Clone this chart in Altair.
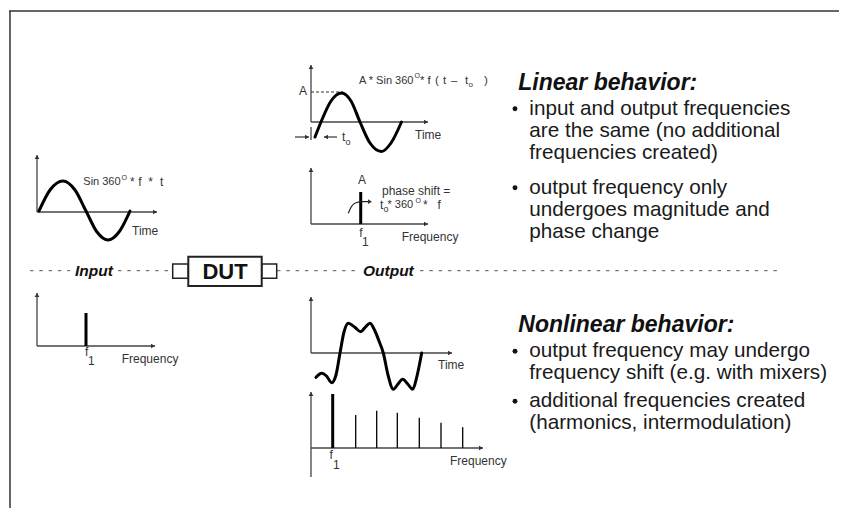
import altair as alt
import pandas as pd

# ---------------- canvas (page-pixel coordinates) ----------------
W, H = 831, 500
X0, Y0 = 8, 8
XS = alt.Scale(domain=[X0, X0 + W], nice=False, zero=False)
YS = alt.Scale(domain=[Y0, Y0 + H], nice=False, zero=False, reverse=True)
FONT = "Liberation Sans"

# ---------------- data ----------------
# frame (x1, y1, x2, y2)
frame_x1 = [10, 9]
frame_y1 = [11, 11]
frame_x2 = [10, 847]
frame_y2 = [517, 11]
frame_col = ["#666666", "#333333"]
frame_w = [2.0, 1.5]

# small plot axes (start -> arrow end)
axis_x1 = [37, 37, 37, 37, 311, 311, 311, 311, 311, 311, 311, 311]
axis_y1 = [212, 212, 346, 346, 122, 122, 224, 224, 353, 353, 477, 448]
axis_x2 = [37, 157, 37, 155, 311, 428, 311, 428, 311, 452, 311, 483]
axis_y2 = [155, 212, 293, 346, 65, 122, 168, 224, 297, 353, 392, 448]

# spectral lines
spec_x = [86, 360.7, 332.7, 355.7, 376.7, 397.3, 419.3, 441, 462.7]
spec_base = [346, 224, 448, 448, 448, 448, 448, 448, 448]
spec_top = [313, 192, 394, 415, 410.7, 412.7, 417.7, 422.7, 427.3]
spec_w = [3, 3, 3, 1.3, 1.3, 1.3, 1.3, 1.3, 1.3]

# input sine (Sin 360 * f * t)
in_x = [39, 50, 63, 75, 86, 97, 108, 119, 130]
in_y = [211, 190, 181, 190, 211, 232, 240, 232, 211]
# linear output sine (A * Sin 360 * f (t - to))
lin_x = [315, 321, 331, 341.5, 351, 360, 370, 381.5, 391, 401.5]
lin_y = [137, 122, 101, 93, 101, 122, 143, 151.5, 143, 122]
# nonlinear output waveform
nl_x = [316, 321.7, 326.5, 331.7, 336, 340, 344, 348.3, 354.5, 360.7, 365.5,
        370, 374.5, 379, 383.3, 388, 393.3, 398, 402.7, 407.7, 412.7, 417, 421.7]
nl_y = [377.3, 373.3, 376, 382.7, 375, 353, 332, 323.3, 327, 331.7, 327,
        323.3, 330, 341, 353, 375, 389.3, 384, 379.3, 384, 389.3, 376, 353]
# phase-shift curved arrow
arc_x = [348.3, 351.5, 356.5, 362, 368]
arc_y = [213.3, 206.5, 202.5, 201.7, 201.7]

# t_o bracket
to_x1 = [295, 337, 311]
to_y1 = [137, 137, 127]
to_x2 = [309, 324, 311]
to_y2 = [137, 137, 140]

# separator dashed segments (y = 270.7)
sep_x1 = [30, 118, 277, 420]
sep_x2 = [70, 170, 358, 782]
sep_y = 270.7

# DUT boxes (x1, y1, x2, y2)
box_x1 = [172.7, 261.7, 188.3]
box_y1 = [264, 264, 256.7]
box_x2 = [188.3, 276.7, 261.7]
box_y2 = [278.3, 278.3, 286]
box_w = [1.5, 1.5, 2.0]

# arrowheads
head_x = [37, 155, 37, 153, 311, 426, 311, 426, 311, 450, 311, 481, 307, 326, 370]
head_y = [157, 212, 295, 346, 67, 122, 170, 224, 299, 353, 394, 448, 137, 137, 201.7]
head_shape = ["triangle-up", "triangle-right", "triangle-up", "triangle-right",
              "triangle-up", "triangle-right", "triangle-up", "triangle-right",
              "triangle-up", "triangle-right", "triangle-up", "triangle-right",
              "triangle-right", "triangle-left", "triangle-right"]

# small labels and formula tokens (left aligned)
lab_text = ["Time", "Time", "Time", "Frequency", "Frequency", "Frequency",
            "phase shift =",
            "Sin 360", "O", "*", "f", "*", "t",
            "A * Sin 360", "O", "*", "f", "(", "t", "\u2013", "t", "o", ")",
            "t", "o",
            "t", "o", "* 360", "O", "*", "f",
            "f", "1", "f", "1", "f", "1"]
lab_x = [132, 415, 438, 121.7, 401.7, 450,
         382,
         83.3, 121.5, 130, 138.3, 148.3, 160,
         359, 414.5, 420, 427.5, 435, 443, 451, 465, 468.5, 484,
         342, 345.5,
         380, 383.5, 387.5, 415.5, 423, 437.5,
         359.3, 362, 85, 88, 329.5, 333]
lab_y = [231, 134.5, 365, 358.5, 236.7, 460.5,
         191,
         182.2, 177.5, 182.2, 182.2, 182.2, 182.2,
         81, 76, 81, 81, 81, 81, 81, 81, 84.5, 81,
         137, 141.5,
         205, 208.5, 205, 200.8, 205, 205,
         232.5, 242, 352, 361, 455, 465]
lab_size = [12, 12, 12, 12, 12, 12,
            12,
            11, 7, 12, 12, 12, 12,
            11, 7, 11.5, 11.5, 11.5, 11.5, 11.5, 11.5, 8, 11.5,
            12, 9,
            12, 9, 11, 7, 12, 12,
            12, 12, 12, 12, 12, 12]

# centred labels
clab_text = ["A", "A"]
clab_x = [303, 362]
clab_y = [91.3, 180.3]

# headings (bold italic)
head_text = ["Linear behavior:", "Nonlinear behavior:", "Input", "Output"]
head_tx = [518.3, 518.3, 75, 363]
head_ty = [83, 324.5, 270.7, 270.7]
head_size = [23, 23, 15.5, 15.5]

# bullet text lines
body_text = ["input and output frequencies", "are the same (no additional",
             "frequencies created)", "output frequency only",
             "undergoes magnitude and", "phase change",
             "output frequency may undergo", "frequency shift (e.g. with mixers)",
             "additional frequencies created", "(harmonics, intermodulation)"]
body_y = [108.8, 130.8, 152.8, 187.8, 209.8, 231.8, 351.2, 373, 401.2, 423]
body_x = 529.3
dot_x = [515, 515, 515, 515]
dot_y = [108.8, 187.8, 351.2, 401.2]

# ---------------- helpers ----------------
def ex(f="x"):
    return alt.X(f"{f}:Q", scale=XS, axis=None)

def ey(f="y"):
    return alt.Y(f"{f}:Q", scale=YS, axis=None)

def rules(df, dash=None):
    kw = {}
    if dash is not None:
        kw["strokeDash"] = dash
    return alt.Chart(df).mark_rule(**kw).encode(
        x=ex("x1"), y=ey("y1"), x2=alt.X2("x2:Q"), y2=alt.Y2("y2:Q"),
        color=alt.Color("c:N", scale=None),
        strokeWidth=alt.StrokeWidth("w:Q", scale=None),
    )

layers = []

# frame
layers.append(rules(pd.DataFrame({"x1": frame_x1, "y1": frame_y1, "x2": frame_x2,
                                  "y2": frame_y2, "c": frame_col, "w": frame_w})))
# axes
n = len(axis_x1)
layers.append(rules(pd.DataFrame({"x1": axis_x1, "y1": axis_y1, "x2": axis_x2,
                                  "y2": axis_y2, "c": ["#444444"] * n, "w": [1.3] * n})))
# t_o bracket
layers.append(rules(pd.DataFrame({"x1": to_x1, "y1": to_y1, "x2": to_x2, "y2": to_y2,
                                  "c": ["#333333"] * 3, "w": [1.2] * 3})))
# spectra
m = len(spec_x)
layers.append(rules(pd.DataFrame({"x1": spec_x, "y1": spec_base, "x2": spec_x,
                                  "y2": spec_top, "c": ["#000000"] * m, "w": spec_w})))
# separator
k = len(sep_x1)
layers.append(rules(pd.DataFrame({"x1": sep_x1, "y1": [sep_y] * k, "x2": sep_x2,
                                  "y2": [sep_y] * k, "c": ["#555555"] * k, "w": [1.0] * k}),
                    dash=[3.5, 5.8]))
# amplitude dashed marker
layers.append(rules(pd.DataFrame({"x1": [311], "y1": [92], "x2": [343], "y2": [92],
                                  "c": ["#333333"], "w": [1.0]}), dash=[3, 2]))

# DUT boxes
layers.append(alt.Chart(pd.DataFrame({"x1": box_x1, "y1": box_y1, "x2": box_x2,
                                      "y2": box_y2, "w": box_w})).mark_rect(
    fill="white", stroke="#222222").encode(
    x=ex("x1"), y=ey("y1"), x2=alt.X2("x2:Q"), y2=alt.Y2("y2:Q"),
    strokeWidth=alt.StrokeWidth("w:Q", scale=None)))

# waveforms
wave = pd.DataFrame({
    "x": in_x + lin_x + nl_x,
    "y": in_y + lin_y + nl_y,
    "id": ["in"] * len(in_x) + ["lin"] * len(lin_x) + ["nl"] * len(nl_x),
})
layers.append(alt.Chart(wave).mark_line(interpolate="monotone", color="black",
                                        strokeWidth=3, strokeCap="round").encode(
    x=ex(), y=ey(), detail="id:N"))

# curved arrow
layers.append(alt.Chart(pd.DataFrame({"x": arc_x, "y": arc_y})).mark_line(
    interpolate="monotone", color="#222222", strokeWidth=1.2).encode(x=ex(), y=ey()))

# arrowheads
layers.append(alt.Chart(pd.DataFrame({"x": head_x, "y": head_y, "s": head_shape})).mark_point(
    filled=True, color="#333333", size=22, opacity=1).encode(
    x=ex(), y=ey(), shape=alt.Shape("s:N", scale=None)))

# bullet dots
layers.append(alt.Chart(pd.DataFrame({"x": dot_x, "y": dot_y})).mark_circle(
    color="#111111", size=24, opacity=1).encode(x=ex(), y=ey()))

# small labels
layers.append(alt.Chart(pd.DataFrame({"x": lab_x, "y": lab_y, "t": lab_text,
                                      "s": lab_size})).mark_text(
    font=FONT, align="left", baseline="middle", color="#333333").encode(
    x=ex(), y=ey(), text="t:N", size=alt.Size("s:Q", scale=None)))
layers.append(alt.Chart(pd.DataFrame({"x": clab_x, "y": clab_y, "t": clab_text})).mark_text(
    font=FONT, align="center", baseline="middle", color="#333333", fontSize=12).encode(
    x=ex(), y=ey(), text="t:N"))

# headings
layers.append(alt.Chart(pd.DataFrame({"x": head_tx, "y": head_ty, "t": head_text,
                                      "s": head_size})).mark_text(
    font=FONT, align="left", baseline="middle", color="#111111",
    fontWeight="bold", fontStyle="italic").encode(
    x=ex(), y=ey(), text="t:N", size=alt.Size("s:Q", scale=None)))

# body text
layers.append(alt.Chart(pd.DataFrame({"x": [body_x] * len(body_text), "y": body_y,
                                      "t": body_text})).mark_text(
    font=FONT, align="left", baseline="middle", color="#1a1a1a", fontSize=20.7).encode(
    x=ex(), y=ey(), text="t:N"))

# DUT label
layers.append(alt.Chart(pd.DataFrame({"x": [225], "y": [271.5], "t": ["DUT"]})).mark_text(
    font=FONT, align="center", baseline="middle",
    color="#111111", fontWeight="bold", fontSize=22).encode(
    x=ex(), y=ey(), text="t:N"))

chart = alt.layer(*layers).properties(
    width=W, height=H, autosize="none", padding=0
).configure_view(strokeOpacity=0)

chart.save("out.html", embed_options={"renderer": "svg", "actions": False})
